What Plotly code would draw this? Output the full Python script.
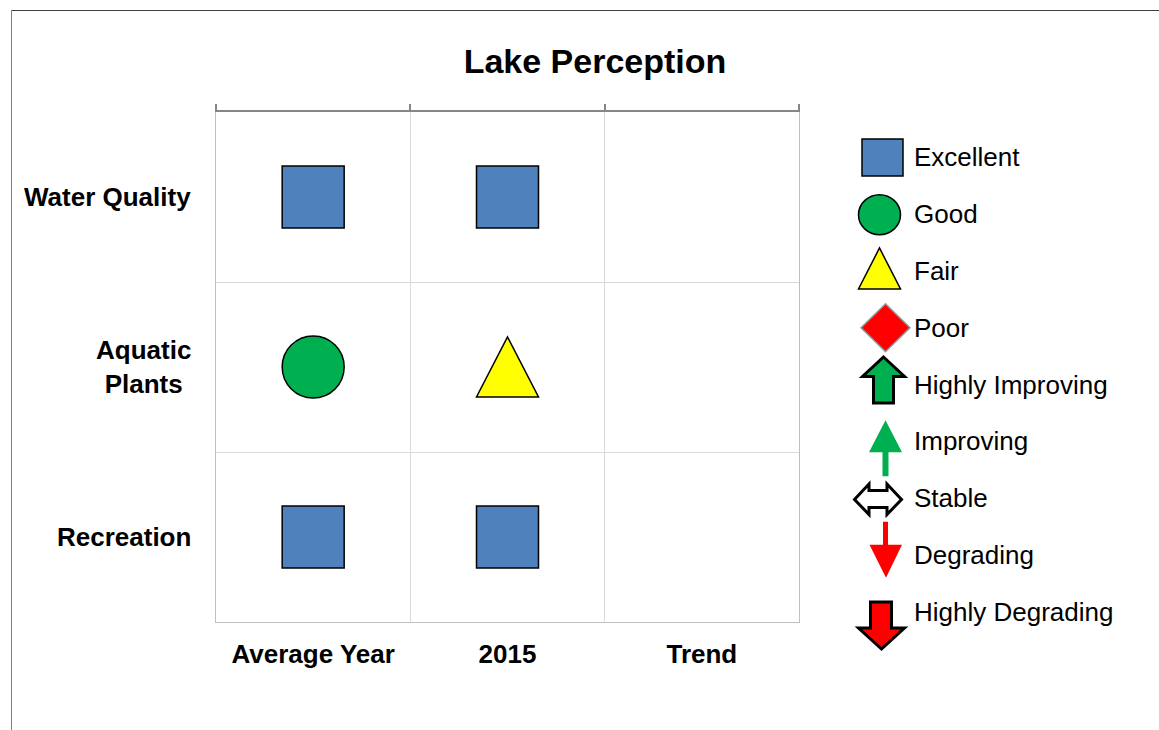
import plotly.graph_objects as go

# ---------------- data ----------------
metrics = ["Water Quality", "Aquatic<br>Plants", "Recreation"]
periods = ["Average Year", "2015", "Trend"]
avg_year = ["Excellent", "Good", "Excellent"]
year_2015 = ["Excellent", "Fair", "Excellent"]
trend = [None, None, None]
legend_labels = ["Excellent", "Good", "Fair", "Poor", "Highly Improving",
                 "Improving", "Stable", "Degrading", "Highly Degrading"]

# ---------------- styling ----------------
W, H = 1159, 730
FONT = "Liberation Sans, Arial, sans-serif"
colors = {"Excellent": "#4F81BD", "Good": "#00B050", "Fair": "#FFFF00", "Poor": "#FF0000"}
symbols = {"Excellent": "square", "Good": "circle"}
PX_L, PX_R, PX_T, PX_B = 216, 799, 112, 622   # plot area in pixels


def px(x):
    return x / W


def py(y):
    return 1 - y / H


fig = go.Figure()

columns = [avg_year, year_2015, trend]
points = {}
for ci, col in enumerate(columns):
    for ri, rating in enumerate(col):
        if rating is None:
            continue
        points.setdefault(rating, []).append((ci + 0.5, ri + 0.5))

shapes = []
x_unit = (PX_R - PX_L) / 3.0
y_unit = (PX_B - PX_T) / 3.0
for rating, pts in points.items():
    if rating in symbols:
        fig.add_trace(go.Scatter(
            x=[p[0] for p in pts], y=[p[1] for p in pts], mode="markers",
            marker=dict(symbol=symbols[rating], size=62, color=colors[rating],
                        line=dict(color="black", width=1.5)),
            showlegend=False, hoverinfo="skip"))
    else:
        hw = 31 / x_unit
        hh = 30 / y_unit
        for cx, cy in pts:
            path = (f"M {cx - hw},{cy + hh} L {cx + hw},{cy + hh} "
                    f"L {cx},{cy - hh} Z")
            shapes.append(dict(type="path", xref="x", yref="y", path=path,
                               fillcolor=colors[rating],
                               line=dict(color="black", width=1.5)))

# ---------------- legend (custom glyphs) ----------------
LEG_Y0, LEG_DY = 157.5, 56.75
LEG_TEXT_X = 912


def poly(pts_px):
    return "M " + " L ".join(f"{px(x)},{py(y)}" for x, y in pts_px) + " Z"


def glyph(name, cy):
    if name == "Excellent":
        return dict(type="rect", x0=px(862), x1=px(903), y0=py(cy - 18.5), y1=py(cy + 18.5),
                    fillcolor=colors["Excellent"], line=dict(color="black", width=1.5))
    if name == "Good":
        return dict(type="circle", x0=px(858.5), x1=px(900.5), y0=py(cy - 19.5), y1=py(cy + 20.5),
                    fillcolor=colors["Good"], line=dict(color="black", width=1.5))
    if name == "Fair":
        return dict(type="path", path=poly([(858.5, cy + 18), (900.5, cy + 18), (879.5, cy - 23)]),
                    fillcolor=colors["Fair"], line=dict(color="black", width=1.5))
    if name == "Poor":
        return dict(type="path", path=poly([(861, cy), (885.5, cy - 24), (910, cy), (885.5, cy + 24)]),
                    fillcolor=colors["Poor"], line=dict(color="#9A9A9A", width=1.5))
    if name == "Highly Improving":
        return dict(type="path", path=poly([(883.5, cy - 27.5), (904.5, cy - 8), (893.5, cy - 8),
                                            (893.5, cy + 18.5), (873.5, cy + 18.5), (873.5, cy - 8),
                                            (862.5, cy - 8)]),
                    fillcolor=colors["Good"], line=dict(color="black", width=3))
    if name == "Improving":
        return dict(type="path", path=poly([(882.5, cy + 35), (882.5, cy + 11), (869, cy + 11),
                                            (885.5, cy - 21), (902, cy + 11), (888.5, cy + 11),
                                            (888.5, cy + 35)]),
                    fillcolor=colors["Good"], line=dict(width=0))
    if name == "Stable":
        return dict(type="path", path=poly([(854.5, cy + 1.5), (869, cy - 14), (869, cy - 7.5),
                                            (887, cy - 7.5), (887, cy - 14), (901.5, cy + 1.5),
                                            (887, cy + 16.5), (887, cy + 9.5), (869, cy + 9.5),
                                            (869, cy + 16.5)]),
                    fillcolor="white", line=dict(color="black", width=3))
    if name == "Degrading":
        return dict(type="path", path=poly([(883, cy - 33), (888, cy - 33), (888, cy - 10),
                                            (902, cy - 10), (886, cy + 23), (869.5, cy - 10),
                                            (883, cy - 10)]),
                    fillcolor=colors["Poor"], line=dict(width=0))
    if name == "Highly Degrading":
        return dict(type="path", path=poly([(870.5, cy - 9.5), (891.5, cy - 9.5), (891.5, cy + 16.5),
                                            (904.5, cy + 16.5), (881.5, cy + 37.5), (858.5, cy + 16.5),
                                            (870.5, cy + 16.5)]),
                    fillcolor=colors["Poor"], line=dict(color="black", width=3))


annotations = []
for i, name in enumerate(legend_labels):
    cy = LEG_Y0 + LEG_DY * i
    g = glyph(name, cy)
    g.update(xref="paper", yref="paper", layer="above")
    shapes.append(g)
    annotations.append(dict(xref="paper", yref="paper", x=px(LEG_TEXT_X), y=py(cy),
                            xanchor="left", yanchor="middle", showarrow=False, text=name,
                            font=dict(family=FONT, size=26, color="black")))

# row labels
for ri, m in enumerate(metrics):
    annotations.append(dict(xref="paper", yref="y", x=px(193), y=ri + 0.5,
                            xanchor="right", yanchor="middle", align="center",
                            showarrow=False, text=m,
                            font=dict(family=FONT, size=26, color="black", weight="bold")))

# chart-area border
shapes.append(dict(type="line", xref="paper", yref="paper", x0=px(11), x1=px(W + 5),
                   y0=py(10.5), y1=py(10.5), line=dict(color="#404040", width=1)))
shapes.append(dict(type="line", xref="paper", yref="paper", x0=px(11.5), x1=px(11.5),
                   y0=py(10), y1=py(H + 5), line=dict(color="#7F7F7F", width=1)))

fig.update_layout(
    width=W, height=H, autosize=False,
    margin=dict(l=0, r=0, t=0, b=0),
    paper_bgcolor="white", plot_bgcolor="white",
    font=dict(family=FONT, color="black"),
    title=dict(text="Lake Perception", x=px(595), y=py(61), xanchor="center", yanchor="middle",
               xref="paper", yref="paper",
               font=dict(family=FONT, size=34, color="black", weight="bold")),
    xaxis=dict(domain=[px(PX_L), px(PX_R)], range=[0, 3], tickvals=[0.5, 1.5, 2.5],
               ticktext=periods, ticks="", showgrid=False, zeroline=False,
               showline=True, linecolor="#BFBFBF", linewidth=1, fixedrange=True,
               tickfont=dict(family=FONT, size=26, color="black", weight="bold"),
               ticklabelstandoff=9),
    xaxis2=dict(overlaying="x", side="top", range=[0, 3], tickvals=[0, 1, 2, 3],
                ticks="outside", ticklen=6, tickcolor="#868686", tickwidth=2,
                showticklabels=False, showline=True, linecolor="#868686", linewidth=2,
                showgrid=True, gridcolor="#D9D9D9", gridwidth=1, zeroline=False, fixedrange=True),
    yaxis=dict(domain=[py(PX_B), py(PX_T)], range=[3, 0], tickvals=[0, 1, 2, 3],
               showticklabels=False, ticks="", showgrid=True, gridcolor="#D9D9D9",
               zeroline=False, showline=True, mirror=True, linecolor="#BFBFBF",
               linewidth=1, fixedrange=True),
    shapes=shapes,
    annotations=annotations,
    showlegend=False,
)
fig.add_trace(go.Scatter(x=[None], y=[None], xaxis="x2", yaxis="y", showlegend=False,
                         hoverinfo="skip"))

fig.write_html("out.html", config={"displayModeBar": False},
               post_script="document.body.style.margin='0';")
